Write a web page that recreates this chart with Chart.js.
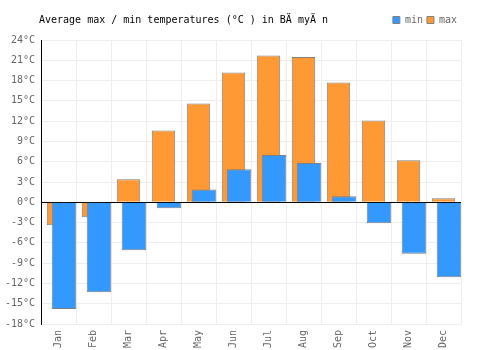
<!DOCTYPE html>
<html>
<head>
<meta charset="utf-8">
<script src="https://cdn.jsdelivr.net/npm/chart.js@4"></script>
<style>
  html, body { margin: 0; padding: 0; background: #fff; }
  #wrap { width: 500px; height: 350px; }
</style>
</head>
<body>
<div id="wrap"><canvas id="chart" width="500" height="350"></canvas></div>
<script>
const months = ['Jan', 'Feb', 'Mar', 'Apr', 'May', 'Jun', 'Jul', 'Aug', 'Sep', 'Oct', 'Nov', 'Dec'];
const minTemps = [-15.8, -13.3, -7.1, -0.9, 1.9, 4.9, 7.0, 5.8, 0.9, -3.1, -7.6, -11.1];
const maxTemps = [-3.4, -2.2, 3.4, 10.6, 14.6, 19.2, 21.7, 21.5, 17.7, 12.1, 6.2, 0.6];
const yTicks = [-18, -15, -12, -9, -6, -3, 0, 3, 6, 9, 12, 15, 18, 21, 24];
const title = 'Average max / min temperatures (°C ) in BÄ myÄ n';

const FONT = '"DejaVu Sans Mono", monospace';

// draws the title on the same line as the legend
const titlePlugin = {
    id: 'sideTitle',
    beforeLayout(chart)
    {
        const lg = chart.legend;
        if(lg && !lg._patched)
        {
            const fit = lg.fit;
            lg.fit = function(){
                fit.call(this);
                this.height += 5;
            };
            lg._patched = true;
        }
    },
    afterDraw(chart)
    {
        const ctx = chart.ctx;
        ctx.save();
        ctx.font = '10px ' + FONT;
        ctx.fillStyle = '#000';
        ctx.textBaseline = 'middle';
        ctx.textAlign = 'left';
        ctx.fillText(title, 39, 20);
        ctx.restore();
    }
};

const config = {
    type: 'bar',
    data: {
        labels: months,
        datasets: [
            {
                // empty slot so the min bars sit a little to the right
                label: '',
                data: months.map(() => null),
                order: -1,
                categoryPercentage: 0.63,
                barPercentage: 2.23,
            },
            {
                label: 'min',
                data: minTemps,
                order: 0,
                backgroundColor: 'rgb(51, 153, 255)',
                borderColor: 'rgb(128, 128, 128)',
                borderWidth: 1,
                categoryPercentage: 0.63,
                barPercentage: 2.23,
            },
            {
                label: 'max',
                data: maxTemps,
                order: 1,
                grouped: false,
                backgroundColor: 'rgb(255, 153, 51)',
                borderColor: 'rgb(128, 128, 128)',
                borderWidth: 1,
                categoryPercentage: 1,
                barPercentage: 0.67,
            }
        ]
    },
    options: {
        responsive: false,
        animation: false,
        layout: {
            padding: { left: 5, right: 39, top: 11, bottom: 0 }
        },
        plugins: {
            title: { display: false },
            tooltip: { enabled: false },
            legend: {
                display: true,
                position: 'top',
                align: 'end',
                labels: {
                    filter: item => item.text !== '',
                    boxWidth: 7,
                    boxHeight: 7,
                    padding: 4,
                    color: '#666',
                    font: { family: FONT, size: 10 }
                }
            }
        },
        scales: {
            x: {
                type: 'category',
                offset: true,
                grid: {
                    offset: true,
                    color: '#eeeeee',
                    drawTicks: false
                },
                border: { color: '#eeeeee' },
                afterFit: axis => { axis.height = 26; },
                ticks: {
                    color: '#666',
                    font: { family: FONT, size: 10 },
                    maxRotation: 90,
                    minRotation: 90,
                    padding: 6,
                    autoSkip: false
                }
            },
            y: {
                min: yTicks[0],
                max: yTicks[yTicks.length - 1],
                afterBuildTicks: axis => {
                    axis.ticks = yTicks.map(v => ({ value: v }));
                },
                afterFit: axis => { axis.width = 36; },
                grid: {
                    color: ctx => ctx.tick && ctx.tick.value === 0 ? '#000' : '#eeeeee',
                    drawTicks: false
                },
                border: { color: '#000' },
                ticks: {
                    color: '#666',
                    font: { family: FONT, size: 10 },
                    padding: 6,
                    callback: v => v + '°C'
                }
            }
        }
    },
    plugins: [titlePlugin]
};

new Chart(document.getElementById('chart'), config);
</script>
</body>
</html>
